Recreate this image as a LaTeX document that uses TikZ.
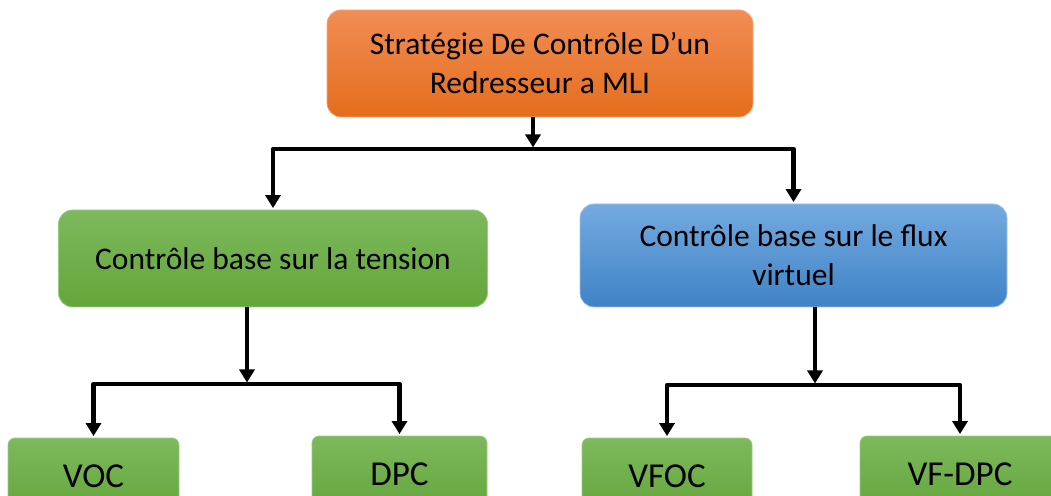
\documentclass[tikz,border=0pt]{standalone}
\usepackage{fontspec}
\setmainfont{Carlito}
\usetikzlibrary{arrows.meta}

\definecolor{orgTop}{HTML}{F18D55}
\definecolor{orgBot}{HTML}{E56D1C}
\definecolor{orgLine}{HTML}{F4A77A}
\definecolor{grnTop}{HTML}{7DB95D}
\definecolor{grnBot}{HTML}{63A63A}
\definecolor{grnLine}{HTML}{9DCB85}
\definecolor{bluTop}{HTML}{74AAE0}
\definecolor{bluBot}{HTML}{3F83C6}
\definecolor{bluLine}{HTML}{9CC2EA}

\begin{document}
\begin{tikzpicture}[
    x=1pt, y=1pt,
    block/.style={rectangle, rounded corners=14pt, align=center, inner sep=0pt, line width=0.8pt, font=\fontsize{31.5}{39}\selectfont},
    topbox/.style={block, top color=orgTop, bottom color=orgBot, draw=orgLine},
    midgreen/.style={block, top color=grnTop, bottom color=grnBot, draw=grnLine},
    midblue/.style={block, top color=bluTop, bottom color=bluBot, draw=bluLine},
    leaf/.style={block, rounded corners=7pt, top color=grnTop, bottom color=grnBot, draw=grnLine, minimum height=76pt, font=\fontsize{35}{40}\selectfont},
    arrow/.style={-{Triangle[width=15pt,length=13pt]}, line width=4.5pt, line join=round, shorten >=1.5pt}
]
    \useasboundingbox (0,0) rectangle (1051,495);
    \clip (0,0) rectangle (1051,495);

    \node[topbox, minimum width=426pt, minimum height=107pt] (strat) at (540,431.5) {Stratégie De Contrôle D’un\\Redresseur a MLI};
    \node[midgreen, minimum width=429pt, minimum height=97pt] (tens) at (273,236.5) {Contrôle base sur la tension};
    \node[midblue, minimum width=427pt, minimum height=103pt] (flux) at (793.5,239.5) {Contrôle base sur le flux\\virtuel};

    \node[leaf, minimum width=171pt] (voc) at (93.5,19) {VOC};
    \node[leaf, minimum width=175pt] (dpc) at (399.5,21) {DPC};
    \node[leaf, minimum width=170pt] (vfoc) at (667,19) {VFOC};
    \node[leaf, minimum width=200pt] (vfdpc) at (960,21) {VF-DPC};

    % junctions on the horizontal bars
    \coordinate (j1) at (533,346);
    \coordinate (j2) at (247,111);
    \coordinate (j3) at (815,110);

    \draw[arrow] (strat.south -| j1) -- (j1);
    \draw[arrow] (j1) -| (tens.north);
    \draw[arrow] (j1) -| (flux.north);

    \draw[arrow] (tens.south -| j2) -- (j2);
    \draw[arrow] (j2) -| (voc.north);
    \draw[arrow] (j2) -| (dpc.north);

    \draw[arrow] (flux.south -| j3) -- (j3);
    \draw[arrow] (j3) -| (vfoc.north);
    \draw[arrow] (j3) -| (vfdpc.north);
\end{tikzpicture}
\end{document}
